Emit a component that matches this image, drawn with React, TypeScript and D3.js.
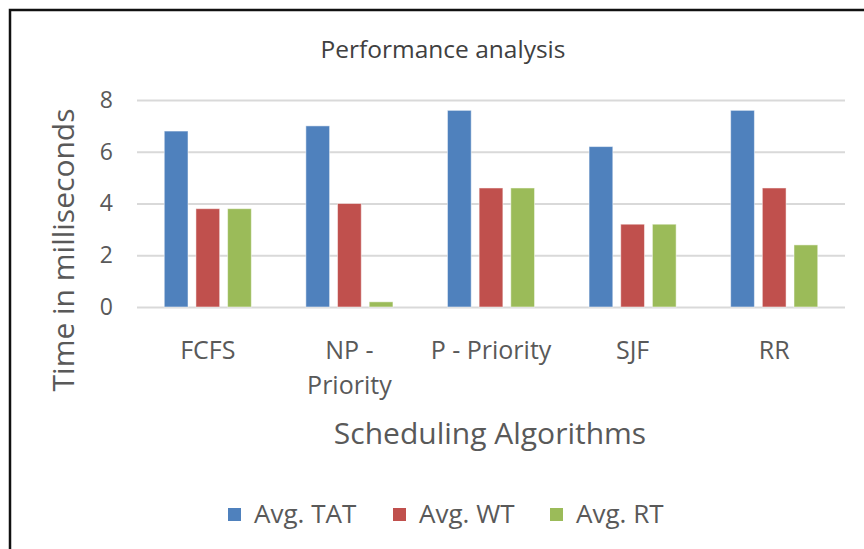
import React, { useEffect, useRef } from "react";
import * as d3 from "d3";

const categories = ["FCFS", "NP - Priority", "P - Priority", "SJF", "RR"];
const seriesNames = ["Avg. TAT", "Avg. WT", "Avg. RT"];
const avgTAT = [6.8, 7.0, 7.6, 6.2, 7.6];
const avgWT = [3.8, 4.0, 4.6, 3.2, 4.6];
const avgRT = [3.8, 0.2, 4.6, 3.2, 2.4];
const yTicks = [0, 2, 4, 6, 8];
const colors = ["#4F81BD", "#C0504D", "#9BBB59"];

const W = 864;
const H = 549;
const FONT = "'Open Sans', Lato, sans-serif";

// break a label onto a second line when it is wider than the band
function wrap(sel: any, width: number) {
  sel.each(function (this: SVGTextElement) {
    const text = d3.select(this);
    const words = text.text().split(/\s+/);
    const x = text.attr("x");
    const y = text.attr("y");
    let line: string[] = [];
    let lineNo = 0;
    let tspan = text.text(null).append("tspan").attr("x", x).attr("y", y);
    for (const w of words) {
      line.push(w);
      tspan.text(line.join(" "));
      if ((tspan.node() as SVGTSpanElement).getComputedTextLength() > width && line.length > 1) {
        line.pop();
        tspan.text(line.join(" "));
        line = [w];
        lineNo++;
        tspan = text.append("tspan").attr("x", x).attr("y", y).attr("dy", lineNo * 35).text(w);
      }
    }
  });
}

export default function App() {
  const ref = useRef<SVGSVGElement>(null);

  useEffect(() => {
    const svg = d3.select(ref.current);
    svg.selectAll("*").remove();

    const margin = { left: 137, right: 19, top: 100, bottom: 242 };
    const innerW = W - margin.left - margin.right;
    const innerH = H - margin.top - margin.bottom;

    svg.append("rect").attr("width", W).attr("height", H).attr("fill", "#fff");
    svg.append("rect")
      .attr("x", 10).attr("y", 10).attr("width", W + 20).attr("height", H + 20)
      .attr("fill", "none").attr("stroke", "#111").attr("stroke-width", 2.5);

    svg.append("text")
      .attr("x", 443).attr("y", 58)
      .attr("text-anchor", "middle")
      .attr("font-family", FONT).attr("font-size", 24.5).attr("fill", "#404040")
      .text("Performance analysis");

    const g = svg.append("g").attr("transform", `translate(${margin.left},${margin.top})`);

    const x0 = d3.scaleBand().domain(categories).range([0, innerW]).paddingInner(0.385).paddingOuter(0.1925);
    const x1 = d3.scaleBand().domain(seriesNames).range([0, x0.bandwidth()]).paddingInner(0.25);
    const y = d3.scaleLinear().domain([0, 8]).range([innerH, 0]);

    const yAxis = d3.axisLeft(y).tickValues(yTicks).tickSize(-innerW).tickPadding(24);
    const ya = g.append("g").call(yAxis);
    ya.select(".domain").remove();
    ya.selectAll(".tick line").attr("stroke", "#D9D9D9").attr("stroke-width", 2);
    ya.selectAll(".tick text").attr("font-family", FONT).attr("font-size", 23).attr("fill", "#595959");

    const table = categories.map((c, i) => ({ c, vals: [avgTAT[i], avgWT[i], avgRT[i]] }));

    const groups = g.selectAll(".grp").data(table).enter().append("g")
      .attr("transform", (d) => `translate(${x0(d.c)},0)`);
    groups.selectAll("rect").data((d) => d.vals.map((v, j) => ({ s: seriesNames[j], v, j })))
      .enter().append("rect")
      .attr("x", (d) => x1(d.s)!)
      .attr("width", x1.bandwidth())
      .attr("y", (d) => y(d.v))
      .attr("height", (d) => innerH - y(d.v))
      .attr("fill", (d) => colors[d.j])
      .attr("stroke", "#ffffff").attr("stroke-opacity", 0.5).attr("stroke-width", 1);

    const xl = g.append("g").selectAll("text").data(categories).enter().append("text")
      .attr("x", (d) => x0(d)! + x0.bandwidth() / 2)
      .attr("y", innerH + 52)
      .attr("text-anchor", "middle")
      .attr("font-family", FONT).attr("font-size", 25).attr("fill", "#595959")
      .text((d) => d);
    wrap(xl, x0.step() - 4);

    svg.append("text")
      .attr("x", margin.left + innerW / 2 - 1).attr("y", 444)
      .attr("text-anchor", "middle")
      .attr("font-family", FONT).attr("font-size", 30).attr("fill", "#595959")
      .text("Scheduling Algorithms");

    svg.append("text")
      .attr("transform", "translate(74,250) rotate(-90)")
      .attr("text-anchor", "middle")
      .attr("font-family", FONT).attr("font-size", 30).attr("fill", "#595959")
      .text("Time in milliseconds");

    const legX = [228, 393, 550];
    const leg = svg.append("g").selectAll("g").data(seriesNames).enter().append("g")
      .attr("transform", (d, i) => `translate(${legX[i]},508)`);
    leg.append("rect").attr("width", 13).attr("height", 13).attr("fill", (d, i) => colors[i]);
    leg.append("text").attr("x", 26).attr("y", 15)
      .attr("font-family", FONT).attr("font-size", 26).attr("fill", "#595959")
      .text((d) => d);
  }, []);

  return (
    <svg ref={ref} width={W} height={H} style={{ position: "absolute", left: 0, top: 0 }} />
  );
}
